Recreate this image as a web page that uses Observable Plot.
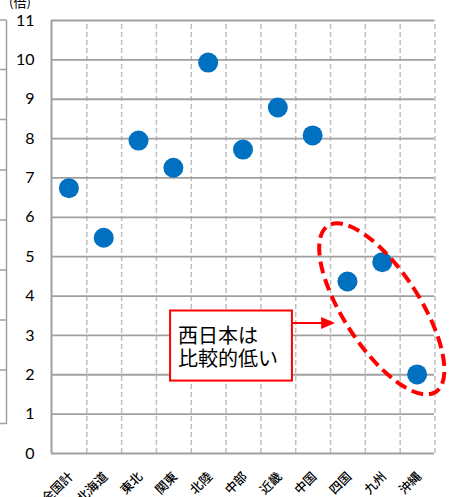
<!DOCTYPE html>
<html><head><meta charset="utf-8">
<script src="https://cdn.jsdelivr.net/npm/d3@7"></script>
<script src="https://cdn.jsdelivr.net/npm/@observablehq/plot@0.6"></script>
<style>
body{margin:0;background:#fff;width:450px;height:497px;overflow:hidden;position:relative;font-family:"Noto Sans CJK JP",sans-serif;}
#unit{position:absolute;left:9px;top:-8px;font-size:13px;color:#000;}
#edge{position:absolute;left:0;top:0;}
</style></head>
<body>
<div id="unit">(倍)</div>
<div id="chart"></div>
<script>
const categories = ["全国計","北海道","東北","関東","北陸","中部","近畿","中国","四国","九州","沖縄"];
const values = [6.74, 5.48, 7.95, 7.26, 9.93, 7.72, 8.79, 8.08, 4.37, 4.86, 2.01];
const yTicks = [0,1,2,3,4,5,6,7,8,9,10,11];
const noteLines = ["西日本は","比較的低い"];
// annotation anchors in data terms (band index, value)
const ellipseCenter = {cat: "九州", y: 3.66};
const boxSpan = {i0: 3.42, i1: 6.92, y0: 3.62, y1: 1.84};
const arrowSpan = {i1: 8.16, y: 3.30};

const data = categories.map((c, i) => ({cat: c, v: values[i]}));
const boundaries = categories.map((c, i) => i + 1);

const annotation = (index, scales, vals, dims) => {
  const x = scales.x, y = scales.y;
  const x0 = x(categories[0]), bw = x(categories[1]) - x0;
  const bx = i => x0 + i * bw;
  const g = d3.create("svg:g");
  const cx = x(ellipseCenter.cat) + bw / 2, cy = y(ellipseCenter.y);
  g.append("ellipse").attr("cx", 0).attr("cy", 0).attr("rx", 38).attr("ry", 99)
    .attr("transform", `translate(${cx},${cy}) rotate(-33)`)
    .attr("fill", "none").attr("stroke", "#ff0000").attr("stroke-width", 4)
    .attr("stroke-dasharray", "12,6");
  const ay = y(arrowSpan.y);
  const ax1 = bx(arrowSpan.i1);
  g.append("line").attr("x1", bx(boxSpan.i1)).attr("x2", ax1 - 12).attr("y1", ay).attr("y2", ay)
    .attr("stroke", "#ff0000").attr("stroke-width", 2);
  g.append("path").attr("d", `M${ax1},${ay} L${ax1-14},${ay-6} L${ax1-14},${ay+6} Z`).attr("fill", "#ff0000");
  const rx0 = bx(boxSpan.i0), rx1 = bx(boxSpan.i1), ry0 = y(boxSpan.y0), ry1 = y(boxSpan.y1);
  g.append("rect").attr("x", rx0).attr("y", ry0).attr("width", rx1 - rx0).attr("height", ry1 - ry0)
    .attr("fill", "#fff").attr("stroke", "#ff0000").attr("stroke-width", 2);
  noteLines.forEach((t, k) => {
    g.append("text").attr("x", rx0 + 8).attr("y", ry0 + 27 + k * 23)
      .attr("dominant-baseline", "middle").attr("text-anchor", "start")
      .attr("font-size", 20).attr("fill", "#000")
      .attr("font-family", '"Noto Sans CJK JP", sans-serif').text(t);
  });
  return g.node();
};

const plot = Plot.plot({
  width: 450,
  height: 497,
  marginLeft: 51,
  marginRight: 16,
  marginTop: 20,
  marginBottom: 44,
  style: {fontFamily: '"Noto Sans CJK JP", sans-serif', background: "transparent", overflow: "visible"},
  x: {type: "band", domain: categories, padding: 0, round: false},
  y: {domain: [0, 11]},
  marks: [
    Plot.ruleX(boundaries, {x: d => categories[d - 1], dx: 34.8 / 2 + 0.5, y1: 0, y2: 11, stroke: "#bfbfbf", strokeWidth: 1.5, strokeDasharray: "5,3"}),
    Plot.ruleY(yTicks.filter(t => t > 0), {stroke: "#a0a0a0", strokeWidth: 1.8}),
    Plot.ruleY([0], {stroke: "#a0a0a0", strokeWidth: 2}),
    Plot.ruleX([categories[0]], {dx: -34.8 / 2, y1: 0, y2: 11, stroke: "#a0a0a0", strokeWidth: 2}),
    Plot.axisY({ticks: yTicks, tickSize: 0, tickPadding: 17, fontSize: 16, fontFamily: "Lato, sans-serif", label: null}),
    Plot.axisX({tickSize: 0, tickRotate: -45, tickPadding: 21, dx: 2, fontSize: 12.5, fontWeight: 500, label: null}),
    Plot.dot(data, {x: "cat", y: "v", r: 10, fill: "#0070c0"}),
    annotation
  ]
});
document.getElementById("chart").appendChild(plot);

// cropped edge of neighbouring panel
const edge = d3.select("body").append("svg").attr("id", "edge").attr("width", 10).attr("height", 497);
edge.append("line").attr("x1", 6.5).attr("x2", 6.5).attr("y1", 20).attr("y2", 424).attr("stroke", "#a0a0a0").attr("stroke-width", 1.5);
[20, 69.5, 119.5, 170, 220, 270, 320, 370, 423.5].forEach(yy => {
  edge.append("line").attr("x1", 0).attr("x2", 6.5).attr("y1", yy).attr("y2", yy).attr("stroke", "#a0a0a0").attr("stroke-width", 1.5);
});
</script>
</body></html>
